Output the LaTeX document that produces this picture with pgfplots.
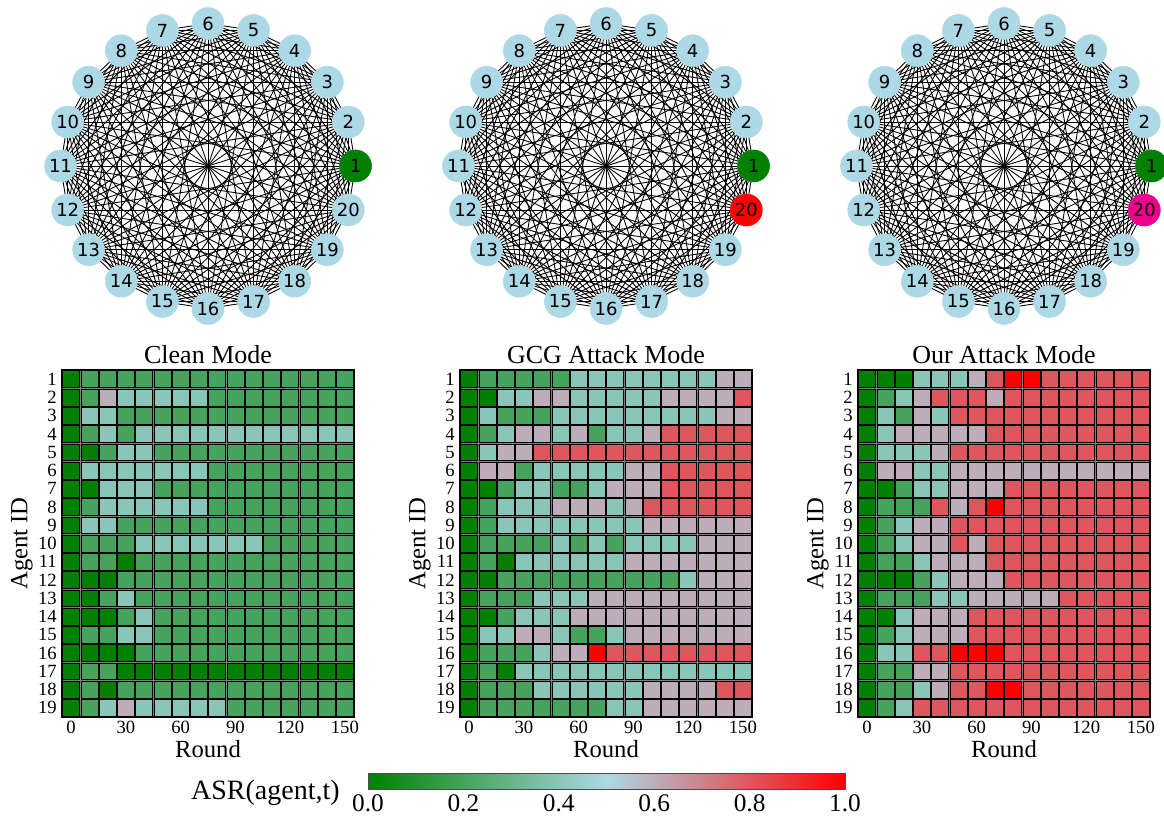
\documentclass[border=0pt]{standalone}
\usepackage{pgfplots}
\usepackage{pgfplotstable}
\pgfplotsset{compat=1.18}
\usepackage{fontspec}
\setmainfont{Liberation Serif}
\newfontfamily\dejavu{DejaVu Sans}
\definecolor{nodeblue}{RGB}{173,216,230}
\definecolor{dgreen}{RGB}{0,128,0}
\definecolor{gridgray}{RGB}{128,128,128}
\pgfplotsset{colormap={asr}{rgb255=(0,128,0) rgb255=(173,216,230) rgb255=(255,0,0)}}

\pgfplotstableread{
id c0 c1 c2 c3 c4 c5 c6 c7 c8 c9 c10 c11 c12 c13 c14 c15
1 0 0.2 0.2 0.2 0.2 0.2 0.2 0.2 0.2 0.2 0.2 0.2 0.2 0.2 0.2 0.2
2 0 0.2 0.6 0.4 0.4 0.4 0.4 0.4 0.2 0.2 0.2 0.2 0.2 0.2 0.2 0.2
3 0 0.4 0.4 0.2 0.2 0.2 0.2 0.2 0.2 0.2 0.2 0.2 0.2 0.2 0.2 0.2
4 0 0.2 0.4 0.2 0.4 0.4 0.4 0.4 0.4 0.4 0.4 0.4 0.4 0.4 0.4 0.4
5 0 0 0.2 0.4 0.4 0.2 0.2 0.2 0.2 0.2 0.2 0.2 0.2 0.2 0.2 0.2
6 0 0.4 0.4 0.4 0.4 0.4 0.4 0.4 0.2 0.2 0.2 0.2 0.2 0.2 0.2 0.2
7 0 0 0.4 0.4 0.4 0.2 0.2 0.2 0.2 0.2 0.2 0.2 0.2 0.2 0.2 0.2
8 0 0.2 0.4 0.4 0.4 0.4 0.4 0.4 0.2 0.2 0.2 0.2 0.2 0.2 0.2 0.2
9 0 0.4 0.4 0.2 0.2 0.2 0.2 0.2 0.2 0.2 0.2 0.2 0.2 0.2 0.2 0.2
10 0 0.2 0.2 0.2 0.4 0.4 0.4 0.4 0.4 0.4 0.4 0.2 0.2 0.2 0.2 0.2
11 0 0.2 0.2 0 0.2 0.2 0.2 0.2 0.2 0.2 0.2 0.2 0.2 0.2 0.2 0.2
12 0 0 0 0.2 0.2 0.2 0.2 0.2 0.2 0.2 0.2 0.2 0.2 0.2 0.2 0.2
13 0 0 0.2 0.4 0.2 0.2 0.2 0.2 0.2 0.2 0.2 0.2 0.2 0.2 0.2 0.2
14 0 0 0 0.2 0.4 0.2 0.2 0.2 0.2 0.2 0.2 0.2 0.2 0.2 0.2 0.2
15 0 0.2 0.2 0.4 0.4 0.2 0.2 0.2 0.2 0.2 0.2 0.2 0.2 0.2 0.2 0.2
16 0 0 0 0 0.2 0.2 0.2 0.2 0.2 0.2 0.2 0.2 0.2 0.2 0.2 0.2
17 0 0.2 0.2 0 0 0 0 0 0 0 0 0 0 0 0 0
18 0 0.2 0 0.2 0.2 0.2 0.2 0.2 0.2 0.2 0.2 0.2 0.2 0.2 0.2 0.2
19 0 0.2 0.4 0.6 0.4 0.4 0.4 0.4 0.4 0.2 0.2 0.2 0.2 0.2 0.2 0.2
}\clean

\pgfplotstableread{
id c0 c1 c2 c3 c4 c5 c6 c7 c8 c9 c10 c11 c12 c13 c14 c15
1 0 0.2 0.2 0.2 0.2 0.2 0.4 0.4 0.4 0.4 0.4 0.4 0.4 0.4 0.6 0.6
2 0 0 0.4 0.4 0.6 0.6 0.4 0.4 0.4 0.4 0.4 0.6 0.6 0.6 0.6 0.8
3 0 0.4 0.2 0.2 0.2 0.4 0.4 0.4 0.4 0.4 0.4 0.4 0.4 0.4 0.6 0.6
4 0 0.2 0.4 0.6 0.6 0.4 0.6 0.2 0.4 0.4 0.6 0.8 0.8 0.8 0.8 0.8
5 0 0.4 0.6 0.6 0.8 0.8 0.8 0.8 0.8 0.8 0.8 0.8 0.8 0.8 0.8 0.8
6 0 0.6 0.6 0.2 0.4 0.4 0.4 0.4 0.4 0.6 0.6 0.8 0.8 0.8 0.8 0.8
7 0 0 0.2 0.4 0.4 0.2 0.2 0.4 0.6 0.6 0.6 0.8 0.8 0.8 0.8 0.8
8 0 0.2 0.4 0.4 0.4 0.6 0.6 0.6 0.4 0.6 0.8 0.8 0.8 0.8 0.8 0.8
9 0 0.2 0.4 0.4 0.4 0.4 0.4 0.4 0.4 0.4 0.6 0.6 0.6 0.6 0.6 0.6
10 0 0.2 0.2 0.2 0.2 0.4 0.2 0.4 0.2 0.4 0.4 0.4 0.4 0.6 0.6 0.6
11 0 0.2 0 0.4 0.4 0.4 0.4 0.4 0.4 0.6 0.6 0.6 0.6 0.6 0.6 0.6
12 0 0 0.2 0.2 0.2 0.2 0.2 0.2 0.2 0.2 0.2 0.2 0.4 0.6 0.6 0.6
13 0 0.2 0.2 0.2 0.4 0.4 0.4 0.6 0.6 0.6 0.6 0.6 0.6 0.6 0.6 0.6
14 0 0 0.2 0.4 0.4 0.4 0.6 0.6 0.6 0.6 0.6 0.6 0.6 0.6 0.6 0.6
15 0 0.4 0.4 0.6 0.6 0.4 0.2 0.2 0.4 0.6 0.6 0.6 0.6 0.6 0.6 0.6
16 0 0.2 0.2 0.2 0.4 0.6 0.6 1 0.8 0.8 0.8 0.8 0.8 0.8 0.8 0.8
17 0 0.2 0 0.4 0.4 0.4 0.4 0.4 0.4 0.4 0.4 0.4 0.4 0.4 0.4 0.4
18 0 0.2 0.2 0.2 0.4 0.4 0.4 0.4 0.4 0.4 0.6 0.6 0.6 0.6 0.8 0.8
19 0 0.2 0.2 0.2 0.2 0.2 0.2 0.2 0.4 0.4 0.6 0.6 0.6 0.6 0.6 0.6
}\gcg

\pgfplotstableread{
id c0 c1 c2 c3 c4 c5 c6 c7 c8 c9 c10 c11 c12 c13 c14 c15
1 0 0 0 0.4 0.4 0.4 0.6 0.8 1 1 0.8 0.8 0.8 0.8 0.8 0.8
2 0 0.2 0.4 0.6 0.8 0.8 0.8 0.6 0.8 0.8 0.8 0.8 0.8 0.8 0.8 0.8
3 0 0.4 0.2 0.6 0.4 0.8 0.8 0.8 0.8 0.8 0.8 0.8 0.8 0.8 0.8 0.8
4 0 0.4 0.6 0.6 0.6 0.6 0.6 0.8 0.8 0.8 0.8 0.8 0.8 0.8 0.8 0.8
5 0 0.4 0.4 0.4 0.6 0.8 0.8 0.8 0.8 0.8 0.8 0.8 0.8 0.8 0.8 0.8
6 0 0.6 0.6 0.4 0.4 0.6 0.6 0.6 0.6 0.6 0.6 0.6 0.6 0.6 0.6 0.6
7 0 0 0.2 0.4 0.4 0.6 0.6 0.6 0.8 0.8 0.8 0.8 0.8 0.8 0.8 0.8
8 0 0.2 0.2 0.2 0.8 0.6 0.8 1 0.8 0.8 0.8 0.8 0.8 0.8 0.8 0.8
9 0 0.2 0.4 0.6 0.6 0.8 0.8 0.8 0.8 0.8 0.8 0.8 0.8 0.8 0.8 0.8
10 0 0.2 0.4 0.6 0.6 0.8 0.6 0.8 0.8 0.8 0.8 0.8 0.8 0.8 0.8 0.8
11 0 0.2 0.2 0.4 0.6 0.6 0.6 0.8 0.8 0.8 0.8 0.8 0.8 0.8 0.8 0.8
12 0 0 0 0.2 0.4 0.6 0.6 0.6 0.8 0.8 0.8 0.8 0.8 0.8 0.8 0.8
13 0 0.2 0.2 0.2 0.4 0.4 0.6 0.6 0.6 0.6 0.6 0.8 0.8 0.8 0.8 0.8
14 0 0 0.4 0.6 0.6 0.6 0.8 0.8 0.8 0.8 0.8 0.8 0.8 0.8 0.8 0.8
15 0 0.2 0.4 0.6 0.6 0.6 0.8 0.8 0.8 0.8 0.8 0.8 0.8 0.8 0.8 0.8
16 0 0.4 0.4 0.8 0.8 1 1 1 0.8 0.8 0.8 0.8 0.8 0.8 0.8 0.8
17 0 0.2 0.2 0.6 0.6 0.8 0.8 0.8 0.8 0.8 0.8 0.8 0.8 0.8 0.8 0.8
18 0 0.2 0.2 0.4 0.6 0.8 0.8 1 1 0.8 0.8 0.8 0.8 0.8 0.8 0.8
19 0 0.2 0.4 0.8 0.8 0.8 0.8 0.8 0.8 0.8 0.8 0.8 0.8 0.8 0.8 0.8
}\ours

\pgfplotstableread{
x y lab
1 0 1
0.951057 0.309017 2
0.809017 0.587785 3
0.587785 0.809017 4
0.309017 0.951057 5
0 1 6
-0.309017 0.951057 7
-0.587785 0.809017 8
-0.809017 0.587785 9
-0.951057 0.309017 10
-1 0 11
-0.951057 -0.309017 12
-0.809017 -0.587785 13
-0.587785 -0.809017 14
-0.309017 -0.951057 15
0 -1 16
0.309017 -0.951057 17
0.587785 -0.809017 18
0.809017 -0.587785 19
0.951057 -0.309017 20
}\nodestab

\pgfplotsset{
  hm/.style={
    scale only axis, width=219pt, height=260.25pt,
    xmin=-5, xmax=155, ymin=0.5, ymax=19.5, y dir=reverse,
    xtick={0,30,60,90,120,150}, ytick={1,2,...,19},
    major tick length=0pt, minor tick length=0pt,
    axis background/.style={fill=gridgray},
    axis on top, axis line style={black, line width=0.8pt},
    colormap name=asr, point meta min=0, point meta max=1,
    /pgf/number format/assume math mode=true,
    tick label style={font=\fontsize{14}{14}\selectfont},
    xticklabel style={anchor=base, yshift=-12.75pt},
    yticklabel style={anchor=east, inner sep=0pt, xshift=-3.75pt},
    every axis title shift=0pt,
    title style={at={(axis description cs:0.5,1.0173)}, anchor=base, font=\fontsize{19.5}{19.5}\selectfont},
    xlabel style={at={(axis description cs:0.5,-0.1153)}, anchor=base, font=\fontsize{18.5}{18.5}\selectfont},
    ylabel style={at={(axis description cs:-0.137,0.5)}, anchor=center, font=\fontsize{18.5}{18.5}\selectfont},
    xlabel=Round, ylabel=Agent ID,
  },
  cell/.style={scatter, only marks, mark=square*, mark size=6.3pt,
    point meta=explicit,
    scatter/use mapped color={draw=none, fill=mapped color}},
  gr/.style={scale only axis, width=265.5pt, height=256.5pt,
    xmin=-1.2, xmax=1.2, ymin=-1.2, ymax=1.2, hide axis, clip=false},
  gnode/.style={only marks, mark=*, mark size=12pt, color=#1,
    mark options={draw=none, fill=#1},
    point meta=explicit symbolic, nodes near coords,
    every node near coord/.append style={anchor=center, text=black,
      font=\dejavu\fontsize{13.5}{13.5}\selectfont}},
}

\newcommand\kedges{%
  \pgfplotsinvokeforeach{0,...,19}{%
    \pgfplotsforeachungrouped \j in {0,...,19}{%
      \ifnum\j>##1\relax
        \pgfmathsetmacro\xa{cos(18*##1)}\pgfmathsetmacro\ya{sin(18*##1)}%
        \pgfmathsetmacro\xb{cos(18*\j)}\pgfmathsetmacro\yb{sin(18*\j)}%
        \edef\tmp{\noexpand\draw[black, line width=0.65pt] (axis cs:\xa,\ya) -- (axis cs:\xb,\yb);}%
        \tmp
      \fi
    }%
  }%
}

\newcommand\heat[1]{%
  \pgfplotsinvokeforeach{0,...,15}{%
    \addplot[cell] table[x expr=##1*10, y=id, meta=c##1] {#1};
  }%
}

\begin{document}
\begin{tikzpicture}
\useasboundingbox (0,0) rectangle (873pt,617.25pt);

% ---- graphs ----
\begin{axis}[gr, at={(23.25pt,364.5pt)}, anchor=south west]
\kedges
\addplot[gnode=nodeblue] table[x=x, y=y, meta=lab] {\nodestab};
\addplot[gnode=dgreen] coordinates {(1,0) [1]};
\end{axis}

\begin{axis}[gr, at={(321.75pt,364.5pt)}, anchor=south west]
\kedges
\addplot[gnode=nodeblue] table[x=x, y=y, meta=lab] {\nodestab};
\addplot[gnode=dgreen] coordinates {(1,0) [1]};
\addplot[gnode=red] coordinates {(0.951057,-0.309017) [20]};
\end{axis}

\begin{axis}[gr, at={(620.25pt,364.5pt)}, anchor=south west]
\kedges
\addplot[gnode=nodeblue] table[x=x, y=y, meta=lab] {\nodestab};
\addplot[gnode=dgreen] coordinates {(1,0) [1]};
\addplot[gnode=magenta] coordinates {(0.951057,-0.309017) [20]};
\end{axis}

% ---- heatmaps ----
\begin{axis}[hm, at={(46.5pt,79.5pt)}, anchor=south west, title={Clean Mode}]
\heat{\clean}
\end{axis}

\begin{axis}[hm, at={(345pt,79.5pt)}, anchor=south west, title={GCG Attack Mode}]
\heat{\gcg}
\end{axis}

\begin{axis}[hm, at={(643.5pt,79.5pt)}, anchor=south west, title={Our Attack Mode}]
\heat{\ours}
\end{axis}

% ---- colorbar ----
\begin{axis}[at={(276pt,25.5pt)}, anchor=south west, scale only axis,
  width=357.75pt, height=12pt, xmin=0, xmax=1, ymin=0, ymax=1,
  ytick=\empty, xtick={0,0.2,0.4,0.6,0.8,1}, major tick length=0pt,
  axis on top, axis line style={black!70, line width=0.6pt},
  colormap name=asr, point meta min=0, point meta max=1,
  xticklabel style={anchor=base, yshift=-17.25pt, font=\fontsize{19}{19}\selectfont},
  /pgf/number format/fixed, /pgf/number format/fixed zerofill,
  /pgf/number format/precision=1, /pgf/number format/assume math mode=true]
\addplot[surf, shader=interp, mesh/cols=3, point meta=x] coordinates {(0,0) (0.5,0) (1,0) (0,1) (0.5,1) (1,1)};
\end{axis}
\node[anchor=base east, font=\fontsize{21}{21}\selectfont, inner sep=0pt] at (255pt,17.25pt) {ASR(agent,t)};
\end{tikzpicture}
\end{document}
